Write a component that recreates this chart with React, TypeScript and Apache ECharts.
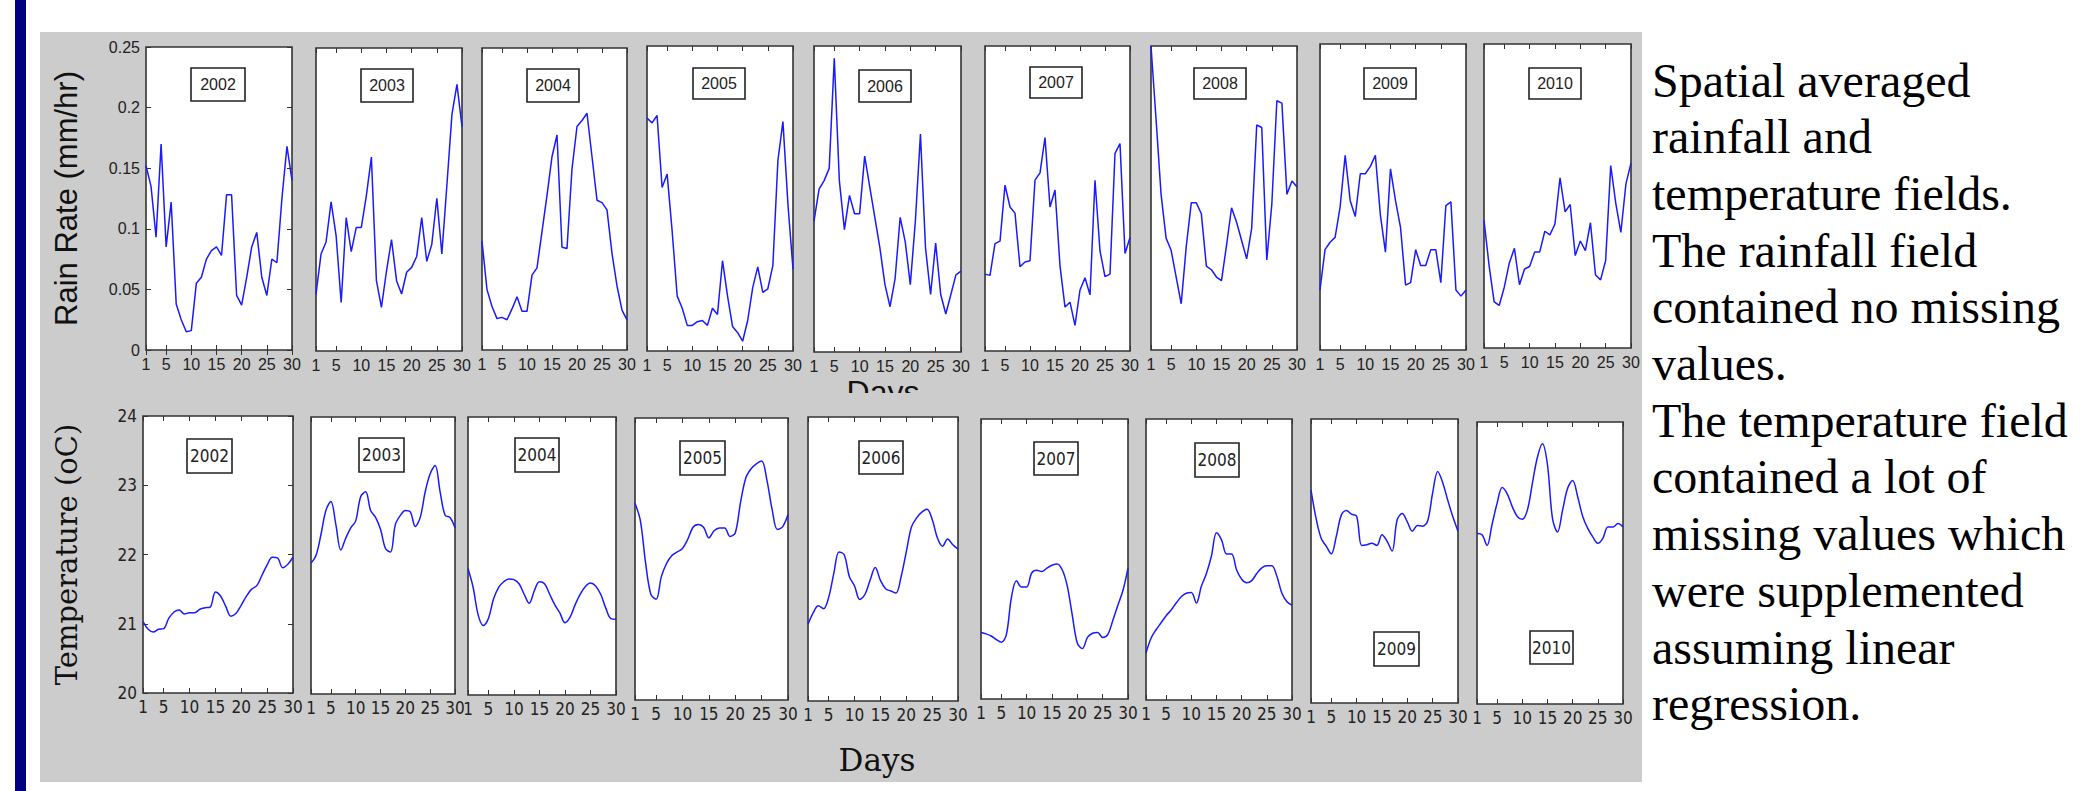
import React, { useEffect, useRef } from 'react';
import * as echarts from 'echarts';

// ---------------- DATA ----------------
const years = ['2002', '2003', '2004', '2005', '2006', '2007', '2008', '2009', '2010'];
const days = ['1', '2', '3', '4', '5', '6', '7', '8', '9', '10', '11', '12', '13', '14', '15',
  '16', '17', '18', '19', '20', '21', '22', '23', '24', '25', '26', '27', '28', '29', '30'];
const xTickDays = ['1', '5', '10', '15', '20', '25', '30'];
const rainTicks = ['0', '0.05', '0.1', '0.15', '0.2', '0.25'];
const tempTicks = ['20', '21', '22', '23', '24'];

const rain2002 = [0.152, 0.135, 0.093, 0.170, 0.085, 0.122, 0.038, 0.025, 0.015, 0.016, 0.055, 0.060, 0.075, 0.082, 0.085,
  0.078, 0.128, 0.128, 0.045, 0.037, 0.060, 0.085, 0.097, 0.060, 0.045, 0.075, 0.072, 0.125, 0.168, 0.140];
const rain2003 = [0.047, 0.080, 0.090, 0.123, 0.095, 0.040, 0.110, 0.082, 0.102, 0.102, 0.128, 0.160, 0.058, 0.036, 0.066,
  0.092, 0.058, 0.047, 0.065, 0.069, 0.078, 0.110, 0.074, 0.088, 0.126, 0.080, 0.137, 0.195, 0.220, 0.185];
const rain2004 = [0.090, 0.050, 0.036, 0.026, 0.027, 0.025, 0.034, 0.044, 0.032, 0.032, 0.062, 0.068, 0.098, 0.128, 0.160,
  0.178, 0.085, 0.084, 0.150, 0.185, 0.190, 0.196, 0.160, 0.124, 0.122, 0.116, 0.080, 0.053, 0.033, 0.025];
const rain2005 = [0.191, 0.187, 0.193, 0.134, 0.145, 0.098, 0.045, 0.035, 0.021, 0.021, 0.024, 0.025, 0.021, 0.035, 0.030,
  0.074, 0.045, 0.020, 0.015, 0.008, 0.025, 0.052, 0.069, 0.048, 0.051, 0.070, 0.156, 0.188, 0.120, 0.067];
const rain2006 = [0.107, 0.133, 0.140, 0.150, 0.240, 0.140, 0.100, 0.128, 0.113, 0.113, 0.160, 0.135, 0.110, 0.085, 0.055,
  0.037, 0.060, 0.110, 0.090, 0.055, 0.107, 0.178, 0.085, 0.047, 0.089, 0.047, 0.031, 0.047, 0.063, 0.066];
const rain2007 = [0.063, 0.062, 0.088, 0.090, 0.136, 0.118, 0.113, 0.069, 0.073, 0.074, 0.140, 0.146, 0.175, 0.118, 0.132,
  0.070, 0.036, 0.040, 0.021, 0.050, 0.060, 0.046, 0.140, 0.082, 0.061, 0.063, 0.162, 0.170, 0.080, 0.093];
const rain2008 = [0.250, 0.190, 0.128, 0.092, 0.082, 0.060, 0.038, 0.085, 0.121, 0.121, 0.112, 0.069, 0.066, 0.060, 0.057,
  0.086, 0.117, 0.105, 0.090, 0.075, 0.100, 0.185, 0.183, 0.074, 0.120, 0.205, 0.203, 0.128, 0.139, 0.134];
const rain2009 = [0.049, 0.082, 0.088, 0.092, 0.117, 0.159, 0.122, 0.109, 0.144, 0.144, 0.150, 0.159, 0.110, 0.080, 0.148,
  0.122, 0.100, 0.053, 0.055, 0.082, 0.069, 0.069, 0.082, 0.082, 0.055, 0.118, 0.121, 0.049, 0.044, 0.049];
const rain2010 = [0.105, 0.068, 0.038, 0.035, 0.050, 0.070, 0.082, 0.052, 0.065, 0.067, 0.079, 0.079, 0.096, 0.093, 0.102,
  0.140, 0.112, 0.118, 0.076, 0.088, 0.080, 0.103, 0.060, 0.056, 0.072, 0.150, 0.119, 0.095, 0.135, 0.152];

const temp2002 = [21.03, 20.92, 20.88, 20.92, 20.93, 21.08, 21.17, 21.20, 21.14, 21.16, 21.16, 21.21, 21.23, 21.24, 21.46,
  21.40, 21.25, 21.11, 21.15, 21.27, 21.40, 21.50, 21.55, 21.70, 21.85, 21.96, 21.95, 21.81, 21.86, 21.96];
const temp2003 = [21.89, 22.00, 22.30, 22.65, 22.78, 22.45, 22.08, 22.25, 22.40, 22.50, 22.85, 22.92, 22.65, 22.55, 22.38,
  22.10, 22.05, 22.45, 22.58, 22.65, 22.63, 22.42, 22.55, 22.92, 23.18, 23.30, 22.92, 22.58, 22.55, 22.40];
const temp2004 = [21.82, 21.55, 21.15, 21.00, 21.10, 21.38, 21.55, 21.63, 21.67, 21.66, 21.60, 21.45, 21.32, 21.50, 21.63,
  21.60, 21.45, 21.30, 21.18, 21.04, 21.12, 21.30, 21.45, 21.56, 21.61, 21.57, 21.45, 21.25, 21.10, 21.09];
const temp2005 = [22.79, 22.55, 21.95, 21.50, 21.43, 21.75, 21.94, 22.05, 22.10, 22.15, 22.28, 22.45, 22.49, 22.45, 22.30,
  22.40, 22.44, 22.44, 22.32, 22.37, 22.80, 23.15, 23.28, 23.35, 23.39, 23.12, 22.70, 22.42, 22.46, 22.63];
const temp2006 = [21.08, 21.24, 21.34, 21.30, 21.46, 21.80, 22.10, 22.06, 21.75, 21.62, 21.43, 21.50, 21.70, 21.88, 21.70,
  21.58, 21.55, 21.52, 21.75, 22.10, 22.45, 22.58, 22.66, 22.70, 22.56, 22.30, 22.18, 22.28, 22.20, 22.14];
const temp2007 = [20.95, 20.93, 20.90, 20.85, 20.81, 20.92, 21.45, 21.69, 21.60, 21.60, 21.80, 21.84, 21.82, 21.87, 21.91,
  21.93, 21.85, 21.62, 21.20, 20.80, 20.72, 20.88, 20.94, 20.95, 20.88, 20.92, 21.12, 21.34, 21.55, 21.87];
const temp2008 = [20.67, 20.88, 21.00, 21.10, 21.20, 21.28, 21.38, 21.47, 21.52, 21.53, 21.38, 21.62, 21.80, 22.05, 22.38,
  22.28, 22.08, 22.08, 21.85, 21.72, 21.67, 21.70, 21.80, 21.88, 21.91, 21.91, 21.76, 21.52, 21.40, 21.35];
const temp2009 = [23.00, 22.60, 22.32, 22.21, 22.10, 22.35, 22.65, 22.71, 22.66, 22.63, 22.22, 22.23, 22.25, 22.22, 22.37,
  22.28, 22.14, 22.58, 22.67, 22.55, 22.42, 22.50, 22.49, 22.56, 22.96, 23.26, 23.10, 22.85, 22.62, 22.42];
const temp2010 = [22.42, 22.40, 22.25, 22.55, 22.85, 23.07, 22.98, 22.80, 22.66, 22.62, 22.75, 23.13, 23.50, 23.69, 23.39,
  22.63, 22.44, 22.75, 23.06, 23.17, 22.94, 22.66, 22.49, 22.37, 22.28, 22.35, 22.51, 22.51, 22.56, 22.51];

const rainSeries = [rain2002, rain2003, rain2004, rain2005, rain2006, rain2007, rain2008, rain2009, rain2010];
const tempSeries = [temp2002, temp2003, temp2004, temp2005, temp2006, temp2007, temp2008, temp2009, temp2010];

const paragraph = [
  'Spatial averaged',
  'rainfall and',
  'temperature fields.',
  'The rainfall field',
  'contained no missing',
  'values.',
  'The temperature field',
  'contained a lot of',
  'missing values which',
  'were supplemented',
  'assuming linear',
  'regression.',
];

// ---------------- LAYOUT ----------------
// [left, top, width, height]
const topGrids = [
  [146, 47, 146, 303], [316, 48, 146, 303], [482, 48, 145, 302], [647, 46, 146, 305], [814, 46, 147, 306],
  [985, 46, 145, 305], [1151, 46, 146, 304], [1320, 44, 146, 306], [1484, 44, 147, 304],
];
const bottomGrids = [
  [143, 416, 150, 277], [311, 417, 144, 277], [468, 417, 148, 278], [635, 418, 153, 282], [808, 417, 150, 284],
  [981, 419, 147, 280], [1146, 419, 146, 281], [1311, 419, 147, 284], [1477, 422, 146, 282],
];
const topBoxes = [
  [191, 68, 54, 33], [361, 69, 52, 33], [527, 69, 52, 33], [693, 68, 52, 31], [859, 70, 52, 32],
  [1030, 67, 52, 31], [1194, 68, 52, 31], [1364, 68, 52, 31], [1529, 68, 52, 31],
];
const bottomBoxes = [
  [187, 439, 45, 34], [359, 438, 45, 34], [515, 438, 44, 34], [680, 441, 45, 34], [859, 441, 44, 33],
  [1034, 442, 44, 33], [1195, 443, 44, 34], [1374, 632, 45, 34], [1530, 631, 43, 33],
];

const SANS = "'Liberation Sans', Arial, sans-serif";
const NARROW = "'Liberation Sans Narrow', 'Arial Narrow', 'DejaVu Sans Condensed', 'Liberation Sans', sans-serif";
const SERIF = "'DejaVu Serif', serif";
const PARA = "'Liberation Serif', 'Times New Roman', serif";
const AX = '#333333';
const LBL = '#222222';
const LINE = '#1a1aff';

function buildOption() {
  const grid: any[] = [];
  const xAxis: any[] = [];
  const yAxis: any[] = [];
  const series: any[] = [];
  const graphic: any[] = [];

  const tickFn = (idx: number) => xTickDays.indexOf(days[idx]) >= 0;

  const addPanel = (
    rect: number[], data: number[], first: boolean, isRain: boolean,
  ) => {
    const g = grid.length;
    grid.push({
      left: rect[0], top: rect[1], width: rect[2], height: rect[3],
      show: true, backgroundColor: '#ffffff', borderColor: AX, borderWidth: 1.6,
    });
    const font = isRain ? SANS : NARROW;
    const fsize = isRain ? 16 : 17;
    const xb = xAxis.length;
    xAxis.push({
      gridIndex: g, type: 'category', data: days, boundaryGap: false, position: 'bottom',
      axisLine: { show: false },
      axisTick: { show: true, inside: true, length: 5, interval: tickFn, lineStyle: { color: AX } },
      axisLabel: { interval: tickFn, fontSize: fsize, fontFamily: font, color: LBL, margin: isRain ? 6 : 5 },
      splitLine: { show: false },
    });
    xAxis.push({
      gridIndex: g, type: 'category', data: days, boundaryGap: false, position: 'top',
      axisLine: { show: false },
      axisTick: { show: true, inside: true, length: 5, interval: tickFn, lineStyle: { color: AX } },
      axisLabel: { show: false }, splitLine: { show: false },
    });
    const ticks = isRain ? rainTicks : tempTicks;
    const yl = yAxis.length;
    yAxis.push({
      gridIndex: g, type: 'value', position: 'left',
      min: Number(ticks[0]), max: Number(ticks[ticks.length - 1]),
      interval: Number(ticks[1]) - Number(ticks[0]),
      axisLine: { show: false },
      axisTick: { show: first, inside: true, length: 5, lineStyle: { color: AX } },
      axisLabel: {
        show: first, fontSize: fsize, fontFamily: font, color: LBL, margin: 6,
        formatter: (v: number) => {
          const t = ticks.find((s) => Math.abs(Number(s) - v) < 1e-9);
          return t === undefined ? '' : t;
        },
      },
      splitLine: { show: false },
      name: first ? (isRain ? 'Rain Rate (mm/hr)' : 'Temperature (oC)') : '',
      nameLocation: 'middle', nameRotate: 90, nameGap: isRain ? 64 : 62,
      nameTextStyle: isRain
        ? { fontSize: 31, fontFamily: SANS, color: '#111' }
        : { fontSize: 29, fontFamily: SERIF, color: '#111' },
    });
    if (first) {
      yAxis.push({
        gridIndex: g, type: 'value', position: 'right',
        min: Number(ticks[0]), max: Number(ticks[ticks.length - 1]),
        interval: Number(ticks[1]) - Number(ticks[0]),
        axisLine: { show: false },
        axisTick: { show: true, inside: true, length: 5, lineStyle: { color: AX } },
        axisLabel: { show: false }, splitLine: { show: false },
      });
    }
    series.push({
      type: 'line', xAxisIndex: xb, yAxisIndex: yl, data,
      showSymbol: false, symbol: 'none', smooth: isRain ? false : 0.35,
      lineStyle: { color: LINE, width: 1.5 }, silent: true,
    });
  };

  years.forEach((_, i) => addPanel(topGrids[i], rainSeries[i], i === 0, true));
  years.forEach((_, i) => addPanel(bottomGrids[i], tempSeries[i], i === 0, false));

  const box = (r: number[], label: string, font: string, size: number) => ({
    type: 'group', z: 50,
    children: [
      { type: 'rect', z: 50, shape: { x: r[0], y: r[1], width: r[2], height: r[3] },
        style: { fill: '#ffffff', stroke: '#222', lineWidth: 1.6 } },
      { type: 'text', z: 51, style: { text: label, x: r[0] + r[2] / 2, y: r[1] + r[3] / 2,
        align: 'center', verticalAlign: 'middle', fontSize: size, fontFamily: font, fill: '#222' } },
    ],
  });
  years.forEach((y, i) => graphic.push(box(topBoxes[i], y, SANS, 16)));
  years.forEach((y, i) => graphic.push(box(bottomBoxes[i], y, NARROW, 17)));

  // clipped "Days" from the upper figure
  graphic.push({ type: 'text', z: 40, style: { text: 'Days', x: 883, y: 392, align: 'center',
    verticalAlign: 'middle', fontSize: 32, fontFamily: SANS, fill: '#111' } });
  graphic.push({ type: 'rect', z: 41, shape: { x: 820, y: 393, width: 130, height: 22 },
    style: { fill: '#cccccc' } });
  graphic.push({ type: 'text', z: 40, style: { text: 'Days', x: 877, y: 760, align: 'center',
    verticalAlign: 'middle', fontSize: 31, fontFamily: SERIF, fill: '#111' } });

  paragraph.forEach((line, i) => {
    graphic.push({ type: 'text', z: 40, style: { text: line, x: 1652, y: 80 + i * 56.7,
      align: 'left', verticalAlign: 'middle', fontSize: 48, fontFamily: PARA, fill: '#000' } });
  });

  return { animation: false, backgroundColor: 'transparent', grid, xAxis, yAxis, series, graphic };
}

export default function App() {
  const ref = useRef<HTMLDivElement>(null);
  useEffect(() => {
    if (!ref.current) return;
    const chart = echarts.init(ref.current, undefined, { renderer: 'svg' });
    chart.setOption(buildOption() as any);
    return () => chart.dispose();
  }, []);
  return (
    <div style={{ position: 'absolute', left: 0, top: 0, width: 2089, height: 791, background: '#ffffff', overflow: 'hidden' }}>
      <div style={{ position: 'absolute', left: 15, top: 0, width: 11, height: 791, background: '#000080' }} />
      <div style={{ position: 'absolute', left: 40, top: 32, width: 1602, height: 750, background: '#cccccc' }} />
      <div ref={ref} style={{ position: 'absolute', left: 0, top: 0, width: 2089, height: 791 }} />
    </div>
  );
}
